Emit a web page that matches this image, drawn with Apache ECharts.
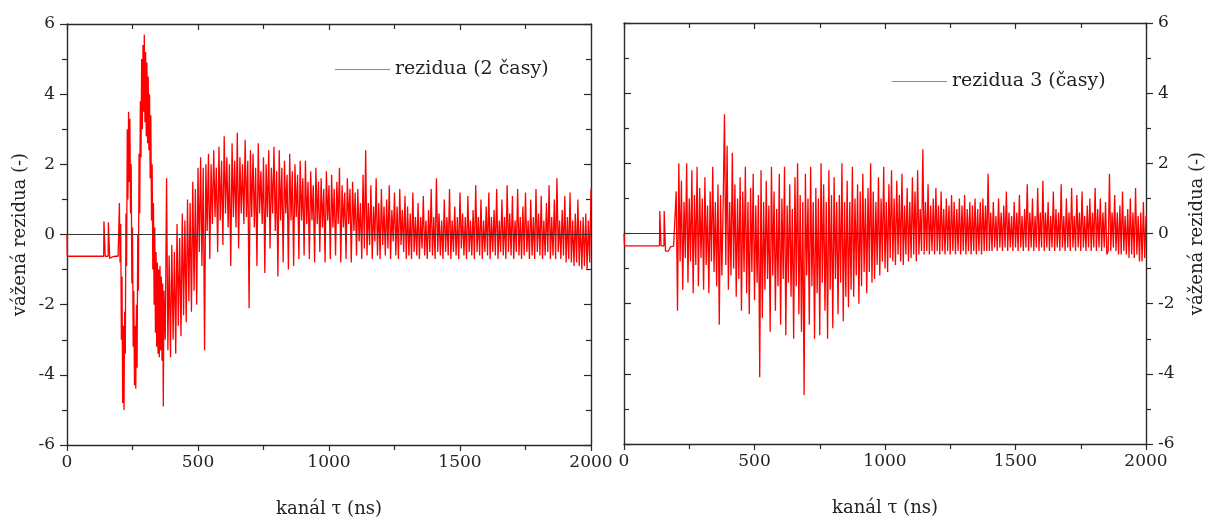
<!DOCTYPE html>
<html>
<head>
<meta charset="utf-8">
<script src="https://cdn.jsdelivr.net/npm/echarts@6/dist/echarts.min.js"></script>
<style>
  html, body { margin: 0; padding: 0; background: #fff; }
  #chart { width: 1210px; height: 520px; }
</style>
</head>
<body>
<div id="chart"></div>
<script>
// weighted residuals, one value per channel step
const xTicks = [0, 500, 1000, 1500, 2000]
const yTicks = [-6, -4, -2, 0, 2, 4, 6]

// left panel: rezidua (2 časy)
const leftLead = [[0, 0], [1, -0.62], [140, -0.62], [141, 0.38], [145, 0.38], [146, -0.62], [157, -0.62], [158, 0.35], [162, 0.35], [163, -0.68], [168, -0.72], [172, -0.64], [178, -0.66], [185, -0.62], [195, -0.62]]
// 200..370, every 2.5
const leftBurst = [0.9, -0.8, 0.3, -3.0, -1.2, -4.8, -2.6, -5.0, -2.2, -3.4,
  0.6, -0.9, 3.0, 1.0, 3.5, 1.5, 3.3, 0.6, 2.0, -1.4,
  0.2, -3.2, -1.6, -4.3, -2.6, -4.4, -2.0, -3.8, 0.0, -1.6,
  2.3, 0.6, 3.8, 2.2, 5.0, 3.0, 5.4, 3.5, 5.7, 3.2,
  5.2, 2.8, 4.9, 2.6, 4.5, 2.4, 4.0, 1.6, 3.4, 0.4,
  2.0, -1.0, 0.9, -2.0, 0.2, -2.8, -0.5, -3.2, -0.8, -3.4,
  -1.0, -3.5, -0.9, -3.3, -1.2, -3.6, -1.4, -4.9, -1.6]
// 375..500, every 5
const leftRise = [-3.0, 1.6, -3.3, -0.6, -3.5, -0.3, -3.0, -0.5, -3.4, 0.3, -2.6, -0.1, -2.9, 0.6, -2.3, 0.4, -2.5, 1.0, -1.9, 0.9, -2.2, 1.5, -1.6, 1.3, -2.0, 1.9]
// 505..700
const leftHump = [-0.5, 2.2, -0.9, 1.9, -3.3, 2.0, 0.1, 2.3, -0.7, 2.0, 0.3, 2.4, 0.5, 1.9, -0.5, 2.5, 0.4, 2.1, -0.3, 2.8,
  0.6, 2.2, 0.2, 2.0, -0.9, 2.6, 0.5, 2.1, 0.2, 2.9, -0.4, 2.2, 0.6, 2.0, 0.3, 2.7, 0.5, 2.1, -2.1, 2.4]
// 705..1100
const leftDecay = [0.5, 2.3, 0.2, 1.9, -0.9, 2.6, 0.6, 1.8, 0.3, 2.2, -1.1, 2.0, 0.5, 2.4, -0.4, 1.9, 0.6, 2.5, 0.1, 1.8,
  -1.2, 2.4, 0.4, 1.9, -0.8, 2.1, 0.6, 1.7, -1.0, 2.3, 0.4, 1.8, -0.9, 2.0, 0.5, 1.7, -0.7, 2.1, 0.4, 1.6,
  -0.6, 2.1, 0.3, 1.5, -0.7, 1.8, 0.4, 1.4, -0.8, 1.9, 0.3, 1.5, -0.5, 1.6, 0.2, 1.3, -0.8, 1.8, 0.4, 1.4,
  -0.7, 1.7, 0.2, 1.3, -0.6, 1.5, 0.3, 1.9, -0.8, 1.4, 0.2, 1.2, -0.7, 1.6, 0.3, 1.3, -0.8, 1.5, 0.1, 1.2]
// 1105..2000
const leftTail = [-0.6, 1.3, -0.2, 0.9, -0.7, 1.7, -0.4, 2.4, -0.6, 0.9, -0.3, 1.4, -0.7, 0.8, -0.2, 1.6, -0.6, 0.9, -0.7, 1.3,
  -0.3, 0.8, -0.6, 1.0, -0.4, 1.4, -0.7, 0.7, -0.2, 1.2, -0.6, 0.8, -0.7, 1.3, -0.3, 0.7, -0.5, 1.1, -0.7, 0.8,
  -0.6, 0.6, -0.7, 1.2, -0.5, 0.5, -0.6, 0.9, -0.7, 0.5, -0.4, 1.1, -0.6, 0.4, -0.7, 0.7, -0.5, 1.3, -0.6, 0.5,
  -0.7, 1.6, -0.5, 0.6, -0.6, 0.4, -0.7, 1.0, -0.5, 0.5, -0.6, 1.3, -0.7, 0.4, -0.5, 0.8, -0.6, 0.5, -0.7, 1.2,
  -0.4, 0.6, -0.6, 0.5, -0.7, 1.1, -0.5, 0.4, -0.6, 0.7, -0.7, 1.4, -0.5, 0.5, -0.6, 1.0, -0.7, 0.4, -0.5, 0.8,
  -0.6, 1.2, -0.7, 0.5, -0.5, 0.7, -0.6, 1.3, -0.7, 0.4, -0.5, 1.0, -0.6, 0.5, -0.7, 1.4, -0.5, 0.6, -0.6, 1.1,
  -0.7, 0.4, -0.5, 1.3, -0.6, 0.5, -0.7, 0.8, -0.6, 1.2, -0.5, 0.4, -0.7, 1.0, -0.6, 0.5, -0.7, 1.3, -0.5, 0.6,
  -0.6, 1.1, -0.7, 0.4, -0.6, 0.9, -0.5, 1.4, -0.7, 0.5, -0.6, 1.0, -0.7, 1.6, -0.5, 0.4, -0.7, 0.7, -0.6, 1.1,
  -0.8, 0.5, -0.7, 1.2, -0.8, 0.4, -0.9, 0.6, -0.8, 1.0, -0.9, 0.4, -1.0, 0.5, -0.9, 0.6, -1.0, 0.4, -0.8, 1.3]

// right panel: rezidua 3 (časy)
const rightLead = [[0, 0], [2, -0.35], [136, -0.35], [137, 0.64], [141, 0.64], [142, -0.35], [153, -0.35], [154, 0.64], [158, 0.64], [159, -0.5], [165, -0.45], [170, -0.5], [178, -0.38], [190, -0.36], [195, -0.4]]
// 200..400
const rightEarly = [1.2, -2.2, 2.0, -0.8, 1.5, -1.6, 0.9, -0.7, 2.0, -1.4, 1.0, -0.8, 1.8, -1.7, 1.1, -0.9, 1.9, -1.5, 1.3, -0.7,
  1.0, -1.6, 1.6, -0.9, 0.8, -1.7, 1.2, -0.8, 1.9, -1.1, 0.9, -1.5, 1.4, -2.6, 1.1, -1.2, 0.9, 3.4, -0.9, 2.5, -1.6]
// 405..650
const rightMid = [0.9, -1.2, 2.3, -1.0, 1.4, -1.8, 1.0, -1.3, 1.6, -2.2, 1.2, -1.1, 1.9, -1.7, 0.9, -2.3, 1.3, -1.1, 1.7, -1.9,
  0.8, -1.4, 1.1, -4.1, 1.8, -2.4, 0.9, -1.6, 1.5, -1.3, 0.8, -2.8, 1.9, -1.2, 1.2, -2.2, 0.7, -1.5, 1.7, -2.6,
  1.0, -1.3, 1.9, -2.9, 0.8, -1.4, 1.4, -1.8, 0.7, -3.0]
// 655..1030
const rightSpread = [1.6, -1.5, 2.0, -2.3, 1.1, -2.8, 0.9, -4.6, 1.7, -1.2, 1.0, -2.6, 1.9, -1.5, 0.9, -3.0, 1.3, -1.7, 1.0, -2.9,
  2.0, -1.4, 1.4, -2.2, 0.9, -3.0, 1.8, -1.6, 1.1, -2.7, 1.6, -1.3, 0.9, -2.3, 1.1, -1.4, 2.0, -2.5, 0.9, -1.8,
  1.5, -2.1, 0.9, -1.6, 1.9, -1.8, 1.0, -1.2, 1.4, -2.0, 1.2, -1.5, 1.7, -1.1, 1.0, -1.7, 1.3, -1.1, 2.0, -1.4,
  1.2, -1.3, 0.9, -0.9, 1.6, -1.2, 1.0, -0.8, 1.9, -1.0, 0.9, -1.1, 1.4, -0.7, 1.8, -0.8]
// 1035..1400
const rightSettle = [1.0, -0.9, 1.5, -0.6, 1.1, -0.8, 1.7, -0.9, 0.8, -0.6, 1.3, -0.8, 0.9, -0.7, 1.6, -0.6, 1.2, -0.8, 1.8, -0.6,
  0.7, -0.5, 2.4, -0.6, 0.9, -0.5, 1.4, -0.6, 0.8, -0.5, 1.0, -0.6, 1.3, -0.5, 0.8, -0.6, 1.2, -0.5, 0.7, -0.6,
  1.0, -0.5, 0.8, -0.6, 1.1, -0.5, 0.9, -0.6, 0.7, -0.5, 1.0, -0.6, 0.8, -0.5, 1.1, -0.6, 0.7, -0.5, 0.9, -0.6,
  0.8, -0.5, 1.0, -0.6, 0.7, -0.5, 0.9, -0.6, 1.0, -0.5, 0.8, -0.5, 1.7, -0.5]
// 1405..2000
const rightTail = [0.6, -0.5, 0.9, -0.4, 0.5, -0.5, 1.0, -0.4, 0.6, -0.5, 0.8, -0.4, 1.2, -0.5, 0.6, -0.4, 0.5, -0.5, 0.9, -0.4,
  0.6, -0.5, 1.1, -0.4, 0.5, -0.5, 0.7, -0.4, 1.4, -0.5, 0.6, -0.4, 1.0, -0.5, 0.5, -0.4, 1.3, -0.5, 0.6, -0.4,
  1.5, -0.5, 0.6, -0.4, 0.9, -0.5, 0.5, -0.4, 1.2, -0.5, 0.7, -0.4, 0.6, -0.5, 1.4, -0.4, 0.5, -0.5, 1.0, -0.4,
  0.6, -0.5, 1.3, -0.4, 0.5, -0.5, 1.1, -0.4, 0.6, -0.5, 1.2, -0.4, 0.5, -0.5, 0.8, -0.4, 1.0, -0.5, 0.6, -0.4,
  1.3, -0.5, 0.7, -0.4, 1.0, -0.5, 0.6, -0.4, 0.9, -0.6, -0.5, 1.7, -0.5, 0.6, -0.4, 1.1, -0.5, 0.6, -0.6, 0.8,
  -0.6, 1.2, -0.5, 0.5, -0.6, 0.7, -0.7, 1.0, -0.6, 0.6, -0.7, 1.3, -0.6, 0.5, -0.8, 0.6, -0.8, 0.9, -0.7, 0.5]

const fromChannel = (start, step, vals) => vals.map((v, i) => [start + i * step, v])

const leftData = [].concat(
  leftLead,
  fromChannel(200, 2.5, leftBurst),
  fromChannel(375, 5, leftRise),
  fromChannel(505, 5, leftHump),
  fromChannel(705, 5, leftDecay),
  fromChannel(1105, 5, leftTail)
)
const rightData = [].concat(
  rightLead,
  fromChannel(200, 5, rightEarly),
  fromChannel(405, 5, rightMid),
  fromChannel(655, 5, rightSpread),
  fromChannel(1035, 5, rightSettle),
  fromChannel(1405, 5, rightTail)
)

const font = 'DejaVu Serif'
const axisColor = '#2a2a2a'
const lineRed = '#ff0000'

const tickStyle = { color: axisColor, width: 1.2 }

// one bottom/top x axis
const makeX = (gridIndex, position, main) => ({
  type: 'value',
  gridIndex,
  position,
  min: xTicks[0],
  max: xTicks[xTicks.length - 1],
  interval: xTicks[1] - xTicks[0],
  name: main ? 'kanál τ (ns)' : '',
  nameLocation: 'middle',
  nameGap: 55,
  nameTextStyle: { fontFamily: font, fontSize: 18, color: '#222' },
  axisLine: { show: true, onZero: false, lineStyle: { color: axisColor, width: 1.4 } },
  axisTick: { show: true, inside: !main, length: 6, lineStyle: tickStyle },
  minorTick: { show: true, splitNumber: 2, length: 5, lineStyle: tickStyle },
  axisLabel: {
    show: main, margin: 9, fontFamily: font, fontSize: 17, color: '#222',
    showMinLabel: true, showMaxLabel: true,
    formatter: v => String(v)
  },
  splitLine: { show: false }
})

// one left/right y axis
const makeY = (gridIndex, position, main) => ({
  type: 'value',
  gridIndex,
  position,
  min: yTicks[0],
  max: yTicks[yTicks.length - 1],
  interval: yTicks[1] - yTicks[0],
  name: main ? 'vážená rezidua (-)' : '',
  nameLocation: 'middle',
  nameRotate: 90,
  nameGap: position === 'left' ? 38 : 42,
  nameTextStyle: { fontFamily: font, fontSize: 18, color: '#222' },
  axisLine: { show: true, onZero: false, lineStyle: { color: axisColor, width: 1.4 } },
  axisTick: { show: true, inside: !main, length: 7, lineStyle: tickStyle },
  minorTick: { show: true, splitNumber: 2, length: 5, lineStyle: tickStyle },
  axisLabel: {
    show: main, margin: 12, fontFamily: font, fontSize: 17, color: '#222',
    showMinLabel: true, showMaxLabel: true
  },
  splitLine: { show: false }
})

const zeroLine = {
  silent: true,
  symbol: 'none',
  label: { show: false },
  lineStyle: { color: '#333', width: 1, type: 'solid' },
  data: [{ yAxis: 0 }]
}

const legendBase = {
  icon: 'rect',
  itemWidth: 55,
  itemHeight: 1,
  itemGap: 6,
  itemStyle: { color: '#ff5a5a' },
  textStyle: { fontFamily: font, fontSize: 19, color: '#222' }
}

const chart = echarts.init(document.getElementById('chart'), null, { renderer: 'canvas' })

const option = {
  animation: false,
  backgroundColor: '#fff',
  grid: [
    { left: 67, top: 24, width: 524, height: 421, containLabel: false, outerBoundsMode: 'none' },
    { left: 624, top: 23, width: 522, height: 421, containLabel: false, outerBoundsMode: 'none' }
  ],
  legend: [
    Object.assign({ data: ['rezidua (2 časy)'], left: 330, top: 55 }, legendBase),
    Object.assign({ data: ['rezidua 3 (časy)'], left: 887, top: 67 }, legendBase)
  ],
  xAxis: [
    makeX(0, 'bottom', true),
    makeX(0, 'top', false),
    makeX(1, 'bottom', true),
    makeX(1, 'top', false)
  ],
  yAxis: [
    makeY(0, 'left', true),
    makeY(0, 'right', false),
    makeY(1, 'left', false),
    makeY(1, 'right', true)
  ],
  series: [
    {
      name: 'rezidua (2 časy)',
      type: 'line',
      xAxisIndex: 0,
      yAxisIndex: 0,
      data: leftData,
      symbol: 'none',
      sampling: null,
      lineStyle: { color: lineRed, width: 1.3 },
      itemStyle: { color: lineRed },
      markLine: zeroLine
    },
    {
      name: 'rezidua 3 (časy)',
      type: 'line',
      xAxisIndex: 2,
      yAxisIndex: 3,
      data: rightData,
      symbol: 'none',
      sampling: null,
      lineStyle: { color: lineRed, width: 1.3 },
      itemStyle: { color: lineRed },
      markLine: zeroLine
    }
  ]
}

chart.setOption(option)
</script>
</body>
</html>
